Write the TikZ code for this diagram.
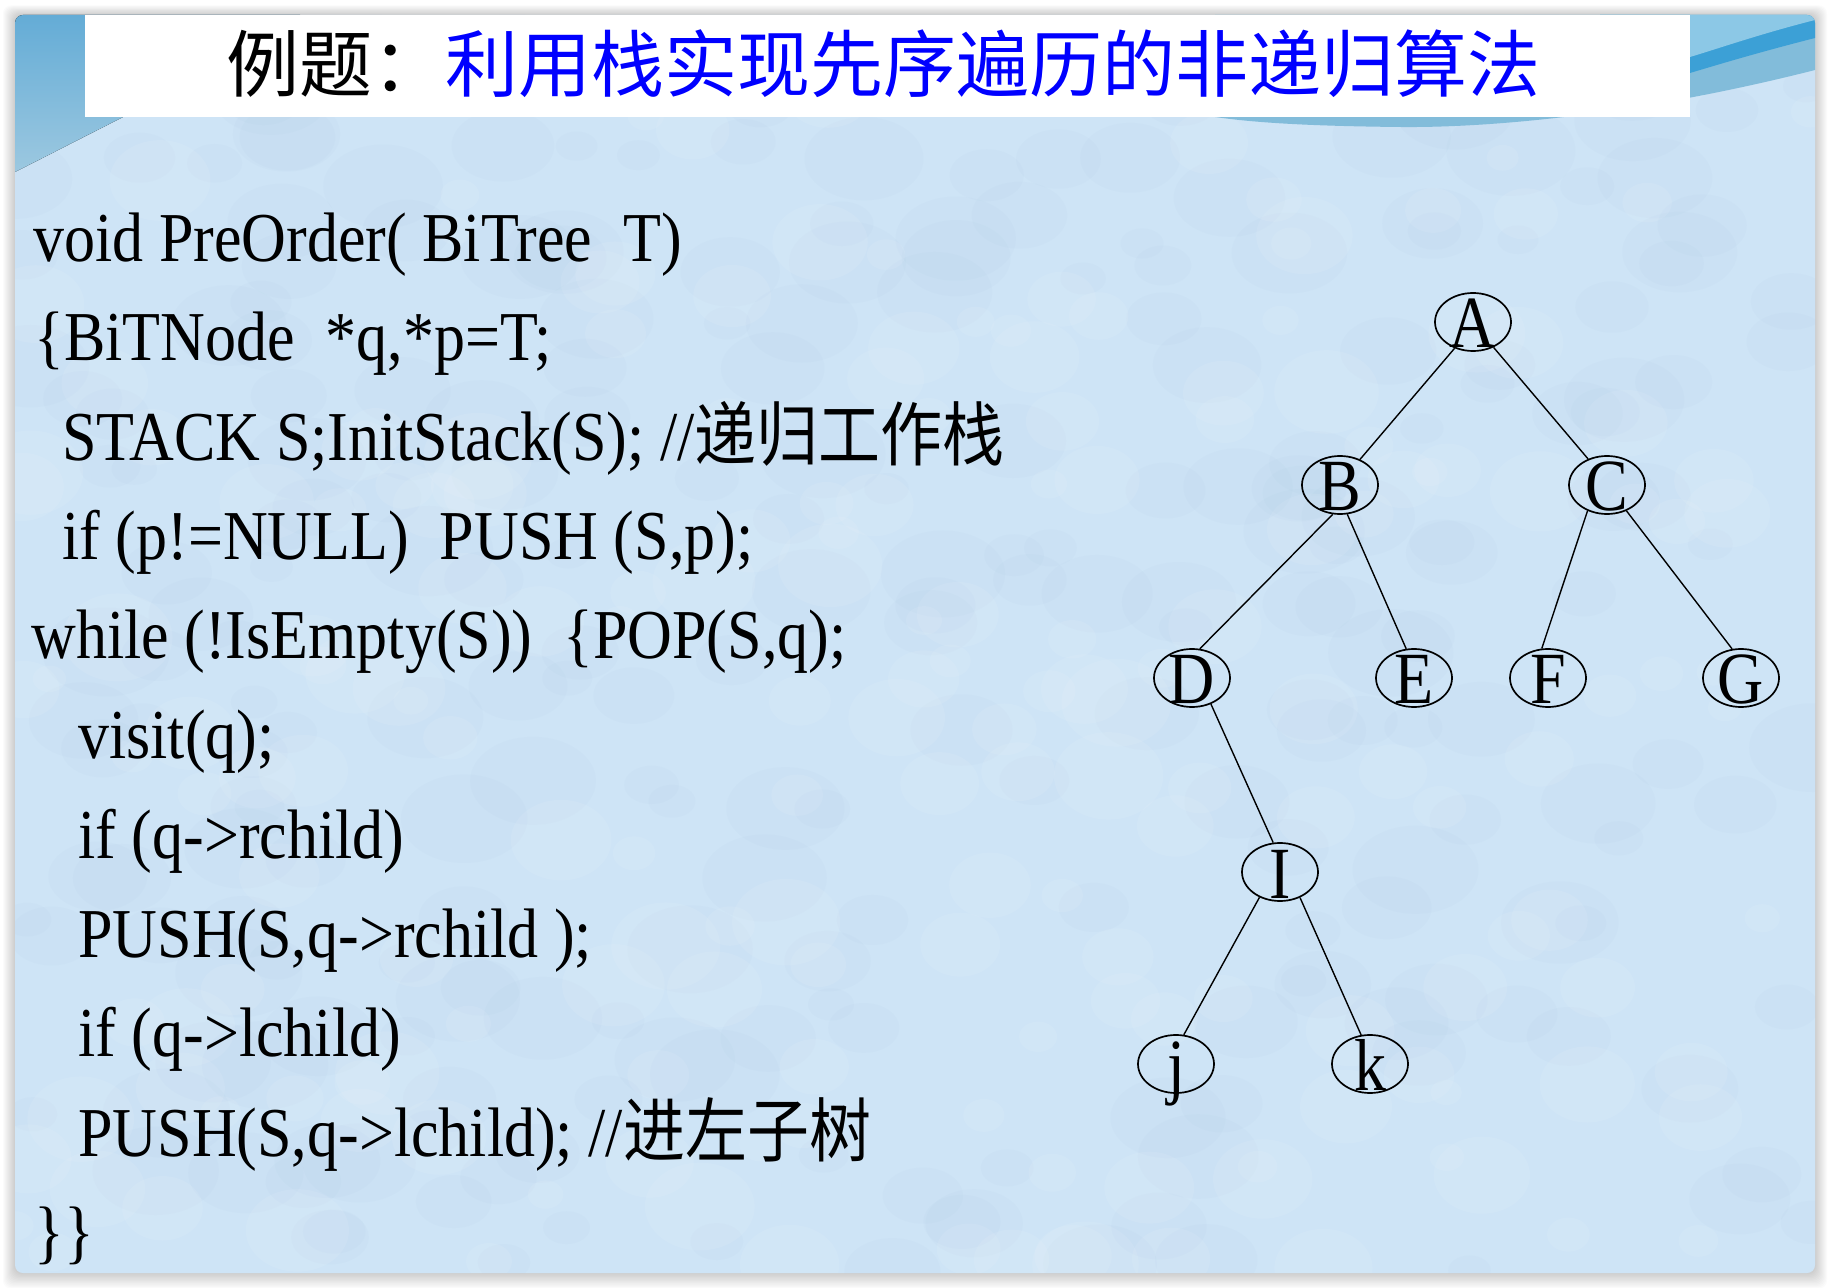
\documentclass[tikz,border=0pt]{standalone}
\usepackage{fontspec}
\usepackage{graphicx}
\setmainfont{Liberation Serif}
\newfontfamily\cjk{Noto Sans CJK SC}
\usetikzlibrary{shapes.geometric}
\definecolor{slidebg}{RGB}{206,228,246}
\definecolor{texdark}{RGB}{150,185,215}
\definecolor{cornerA}{RGB}{100,172,214}
\definecolor{cornerB}{RGB}{156,200,224}
\definecolor{bandlight}{RGB}{140,200,230}
\definecolor{banddark}{RGB}{60,160,214}
\definecolor{bandmid}{RGB}{130,188,218}
\definecolor{titleblue}{RGB}{0,0,255}
\newcommand\vstretch[1]{\scalebox{1}[1.13]{#1}}
\newcommand\treelet[1]{\makebox[0pt]{\smash{\raisebox{-13pt}{\scalebox{1}[1.15]{#1}}}}}
\begin{document}
\begin{tikzpicture}[x=0.5pt,y=-0.5pt,
  code/.style={anchor=base west, inner sep=0pt, font=\fontsize{31pt}{36pt}\selectfont},
  tnode/.style={ellipse, draw, line width=0.85pt, minimum width=38pt, minimum height=29pt, inner sep=0pt, font=\fontsize{32pt}{36pt}\selectfont},
  edge/.style={line width=0.7pt}
]
\useasboundingbox (0,0) rectangle (1832,1288);
\fill[white] (0,0) rectangle (1832,1288);
% drop shadow
\foreach \i in {1,...,12} {
  \fill[black, opacity=0.016, rounded corners=4pt] (15-\i,15-0.8*\i) rectangle (1815+\i,1273+1.3*\i);
}
% slide
\fill[slidebg, rounded corners=4pt] (15,15) rectangle (1815,1273);
\begin{scope}
  \clip[rounded corners=4pt] (15,15) rectangle (1815,1273);
  % faint mottled texture
  \pgfmathsetseed{7}
  \foreach \n in {1,...,260} {
    \pgfmathsetmacro{\tx}{15+rnd*1800}
    \pgfmathsetmacro{\ty}{15+rnd*1258}
    \pgfmathsetmacro{\tr}{20+rnd*45}
    \fill[texdark, opacity=0.05] (\tx,\ty) ellipse [x radius=\tr, y radius=0.7*\tr];
  }
  \foreach \n in {1,...,200} {
    \pgfmathsetmacro{\tx}{15+rnd*1800}
    \pgfmathsetmacro{\ty}{15+rnd*1258}
    \pgfmathsetmacro{\tr}{15+rnd*40}
    \fill[white, opacity=0.08] (\tx,\ty) ellipse [x radius=\tr, y radius=0.8*\tr];
  }
  % top-left corner decoration
  \fill[top color=cornerA, bottom color=cornerB] (15,15) -- (300,15) -- (300,117) -- (123,117) -- (15,172) -- cycle;
  % top-right decoration
  \fill[bandmid] (1815,15) -- (1815,70) .. controls (1650,112) and (1500,128) .. (1400,127)
     .. controls (1300,126) and (1250,122) .. (1215,117) -- (1215,15) -- cycle;
  \fill[banddark] (1815,15) -- (1815,38) .. controls (1760,52) and (1720,64) .. (1690,73) -- (1600,100) -- (1600,15) -- cycle;
  \fill[bandlight] (1815,15) -- (1815,20) .. controls (1760,34) and (1720,48) .. (1690,57) -- (1600,80) -- (1600,15) -- cycle;
\end{scope}
% title
\fill[white] (85,15) rectangle (1690,117);
\node[anchor=base west, inner sep=0pt, font=\cjk\fontsize{36.5pt}{40pt}\selectfont] (title) at (226,92)
  {例题：\textcolor{titleblue}{利用栈实现先序遍历的非递归算法}};
% code
\node[code] (l1) at (33,262) {\vstretch{void PreOrder( BiTree\ \ T)}};
\node[code] (l2) at (34,361) {\vstretch{\{BiTNode\ \ *q,*p=T;}};
\node[code] (l3) at (62,461) {\vstretch{STACK S;InitStack(S); //{\cjk 递归工作栈}}};
\node[code] (l4) at (62,560) {\vstretch{if (p!=NULL)\ \ PUSH (S,p);}};
\node[code] (l5) at (31,659) {\vstretch{while (!IsEmpty(S))\ \ \{POP(S,q);}};
\node[code] (l6) at (78,759) {\vstretch{visit(q);}};
\node[code] (l7) at (78,858) {\vstretch{if (q->rchild)}};
\node[code] (l8) at (78,957) {\vstretch{PUSH(S,q->rchild );}};
\node[code] (l9) at (78,1056) {\vstretch{if (q->lchild)}};
\node[code] (l10) at (78,1156) {\vstretch{PUSH(S,q->lchild); //{\cjk 进左子树}}};
\node[code] (l11) at (34,1255) {\vstretch{\}\}}};
% tree
\node[tnode] (A) at (1473,322) {\treelet{A}};
\node[tnode] (B) at (1340,485) {\treelet{B}};
\node[tnode] (C) at (1607,485) {\treelet{C}};
\node[tnode] (D) at (1192,678) {\treelet{D}};
\node[tnode] (E) at (1414,678) {\treelet{E}};
\node[tnode] (F) at (1548,678) {\treelet{F}};
\node[tnode] (G) at (1741,678) {\treelet{G}};
\node[tnode] (I) at (1280,872) {\treelet{I}};
\node[tnode] (j) at (1176,1064) {\treelet{j}};
\node[tnode] (k) at (1370,1064) {\treelet{k}};
\draw[edge] (A.-125) -- (B.52);
\draw[edge] (A.-51) -- (C.126);
\draw[edge] (B.-104) -- (D.75);
\draw[edge] (B.-76) -- (E.105);
\draw[edge] (C.-127) -- (F.102);
\draw[edge] (C.-53) -- (G.107);
\draw[edge] (D.-54) -- (I.103);
\draw[edge] (I.-129) -- (j.75);
\draw[edge] (I.-52) -- (k.107);
\end{tikzpicture}
\end{document}
